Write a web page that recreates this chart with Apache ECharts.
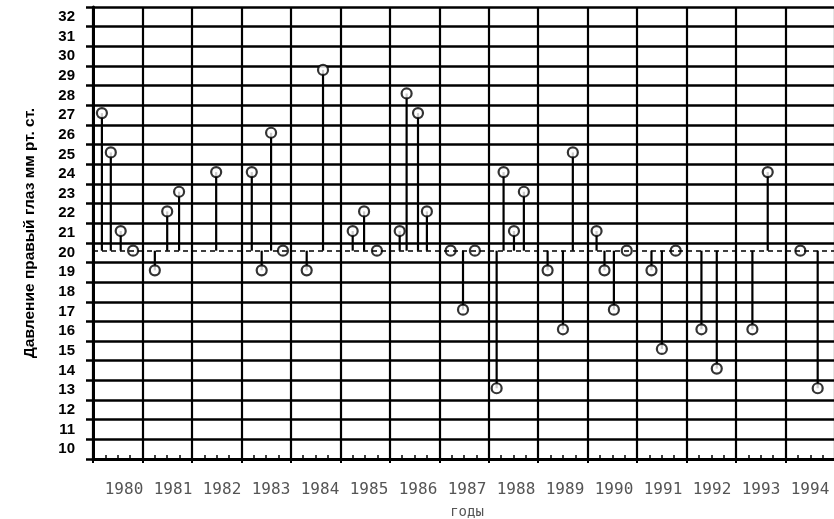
<!DOCTYPE html>
<html>
<head>
<meta charset="utf-8">
<script src="https://cdn.jsdelivr.net/npm/echarts@6/dist/echarts.min.js"></script>
<style>
html,body{margin:0;padding:0;background:#fff;}
#chart{width:834px;height:519px;}
</style>
</head>
<body>
<div id="chart"></div>
<script>
// ---- data ----
const years = ['1980','1981','1982','1983','1984','1985','1986','1987','1988','1989','1990','1991','1992','1993','1994'];
const yLabels = ['10','11','12','13','14','15','16','17','18','19','20','21','22','23','24','25','26','27','28','29','30','31','32'];
// measurement dates (decimal year)
const dates = [
  1980.18,1980.36,1980.56,1980.81,
  1981.25,1981.50,1981.74,
  1982.49,
  1983.21,1983.41,1983.60,1983.84,
  1984.32,1984.65,
  1985.25,1985.48,1985.74,
  1986.20,1986.34,1986.57,1986.75,
  1987.23,1987.48,1987.72,
  1988.16,1988.30,1988.51,1988.71,
  1989.19,1989.50,1989.70,
  1990.18,1990.34,1990.53,1990.79,
  1991.29,1991.50,1991.78,
  1992.30,1992.61,
  1993.33,1993.64,
  1994.30,1994.65
];
// right-eye pressure, mm Hg
const pressure = [
  27,25,21,20,
  19,22,23,
  24,
  24,19,26,20,
  19,29.2,
  21,22,20,
  21,28,27,22,
  20,17,20,
  13,24,21,23,
  19,16,25,
  21,19,17,20,
  19,15,20,
  16,14,
  16,24,
  20,13
];
const BASELINE = 20;
const yTitle = 'Давление правый глаз мм рт. ст.';
const xTitle = 'годы';

const points = dates.map((d, i) => [d, pressure[i]]);

const chart = echarts.init(document.getElementById('chart'), null, {renderer: 'canvas'});
const option = {
  animation: false,
  backgroundColor: '#fff',
  grid: [
    {left: 93, top: 7, width: 742, height: 452, outerBoundsMode: 'none', containLabel: false},
    {left: 99.5, top: 7, width: 735, height: 452, show: false, outerBoundsMode: 'none', containLabel: false}
  ],
  xAxis: [
    {
      type: 'category', gridIndex: 0, data: years, boundaryGap: true,
      axisLine: {show: true, lineStyle: {color: '#000', width: 3}},
      axisTick: {show: true, length: 4, lineStyle: {color: '#000', width: 2}},
      axisLabel: {show: false},
      splitLine: {show: true, lineStyle: {color: '#000', width: 2.2}}
    },
    {
      type: 'value', gridIndex: 0, min: 1980, max: 1995, interval: 1, position: 'bottom',
      axisLine: {show: false},
      axisLabel: {show: false},
      splitLine: {show: false},
      axisTick: {show: false, inside: true},
      minorTick: {show: true, splitNumber: 4, length: 4, lineStyle: {color: '#000', width: 1.5}}
    },
    {
      type: 'category', gridIndex: 1, data: years, boundaryGap: true,
      axisLine: {show: false}, axisTick: {show: false}, splitLine: {show: false},
      axisLabel: {interval: 0, color: '#555', fontFamily: 'DejaVu Sans Mono', fontSize: 16, margin: 23},
      name: xTitle, nameLocation: 'middle', nameGap: 46,
      nameTextStyle: {color: '#555', fontFamily: 'DejaVu Sans Mono', fontSize: 14}
    }
  ],
  yAxis: [
    {
      type: 'category', gridIndex: 0, data: yLabels, boundaryGap: true,
      axisLine: {show: true, lineStyle: {color: '#000', width: 3}},
      axisTick: {show: true, length: 7, lineStyle: {color: '#000', width: 2.5}},
      axisLabel: {interval: 0, color: '#000', fontWeight: 'bold', fontSize: 15, fontFamily: 'Liberation Sans Narrow, Liberation Sans', margin: 18},
      splitLine: {show: true, interval: 0, lineStyle: {color: '#000', width: 2.7}},
      name: yTitle, nameLocation: 'middle', nameGap: 55,
      nameTextStyle: {color: '#000', fontWeight: 'bold', fontSize: 15.5, fontFamily: 'Liberation Sans'}
    },
    {type: 'value', gridIndex: 0, min: 9.4, max: 32.4, show: false},
    {type: 'value', gridIndex: 1, min: 0, max: 1, show: false}
  ],
  series: [
    {
      type: 'custom', xAxisIndex: 1, yAxisIndex: 1, data: points, z: 3,
      renderItem: function (params, api) {
        const p0 = api.coord([api.value(0), BASELINE]);
        const p1 = api.coord([api.value(0), api.value(1)]);
        return {
          type: 'line',
          shape: {x1: p0[0], y1: p0[1], x2: p1[0], y2: p1[1]},
          style: {stroke: '#000', lineWidth: 2.2}
        };
      },
      markLine: {
        silent: true, symbol: 'none', label: {show: false},
        lineStyle: {color: '#000', type: [5, 4], width: 1.6},
        data: [{yAxis: BASELINE}]
      }
    },
    {
      type: 'scatter', xAxisIndex: 1, yAxisIndex: 1, data: points, z: 4,
      symbol: 'circle', symbolSize: 10,
      itemStyle: {color: '#fff', borderColor: '#000', borderWidth: 2.2}
    }
  ]
};
chart.setOption(option);
</script>
</body>
</html>
